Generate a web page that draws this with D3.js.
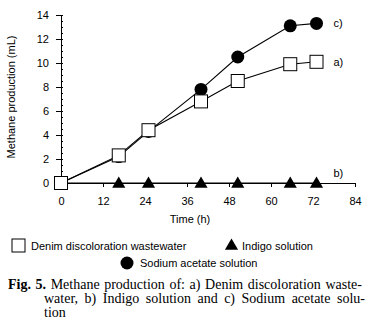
<!DOCTYPE html>
<html>
<head>
<meta charset="utf-8">
<script src="https://cdn.jsdelivr.net/npm/d3@7"></script>
<style>
    body { margin: 0; background: #fff; }
    svg { display: block; font-family: "Liberation Sans", Arial, sans-serif; }
</style>
</head>
<body>
<div id="canvas"></div>
<script>
// Data
let time = [0, 16.5, 25, 40, 50.5, 65.5, 73]
let denim = [0, 2.3, 4.4, 6.8, 8.5, 9.9, 10.1]
let indigo = [0, 0, 0, 0, 0, 0, 0]
let acetate = [0, 2.2, 4.3, 7.8, 10.5, 13.1, 13.3]
let xTicks = [0, 12, 24, 36, 48, 60, 72, 84]
let yTicks = [0, 2, 4, 6, 8, 10, 12, 14]

let width = 379
let height = 325
let sans = '"Liberation Sans", Arial, sans-serif'
let serif = '"Liberation Serif", "Times New Roman", serif'

let svg = d3.select('#canvas').append('svg')
    .attr('width', width)
    .attr('height', height)

let x = d3.scaleLinear().domain([0, 84]).range([61, 355])
let y = d3.scaleLinear().domain([0, 14]).range([183, 15])

// Axes
let xAxis = d3.axisBottom(x)
    .tickValues(xTicks)
    .tickSize(4)
    .tickPadding(10)
    .tickSizeOuter(0)

let gx = svg.append('g')
    .attr('transform', 'translate(0,' + y(0) + ')')
    .call(xAxis)
gx.selectAll('text').attr('font-size', 11).attr('font-family', sans)

// minor y ticks pointing inward
svg.append('g')
    .attr('transform', 'translate(' + x(0) + ',0)')
    .call(d3.axisRight(y).tickValues(d3.range(0, 14.01, 0.5)).tickSize(2).tickFormat(''))
    .select('.domain').remove()

let gy = svg.append('g')
    .attr('transform', 'translate(' + x(0) + ',0)')
    .call(d3.axisLeft(y).tickValues(yTicks).tickSize(5).tickPadding(7).tickSizeOuter(0))
gy.selectAll('text').attr('font-size', 11).attr('font-family', sans)

svg.selectAll('.domain, .tick line').attr('stroke', '#000')

svg.append('text')
    .attr('transform', 'translate(15,97) rotate(-90)')
    .attr('text-anchor', 'middle')
    .attr('font-size', 11)
    .text('Methane production (mL)')

svg.append('text')
    .attr('x', 190)
    .attr('y', 223)
    .attr('text-anchor', 'middle')
    .attr('font-size', 11)
    .text('Time (h)')

// Lines
let line = function (vals) {
    return d3.line()
        .x((d, i) => x(time[i]))
        .y((d) => y(d))(vals)
}

;[indigo, acetate, denim].forEach(function (vals) {
    svg.append('path')
        .attr('d', line(vals))
        .attr('fill', 'none')
        .attr('stroke', '#000')
        .attr('stroke-width', 1.1)
})

// Markers
let tri = d3.symbol().type(d3.symbolTriangle).size(75)

svg.append('g')
    .selectAll('circle')
    .data(acetate)
    .enter()
    .append('circle')
    .attr('cx', (d, i) => x(time[i]))
    .attr('cy', (d) => y(d))
    .attr('r', 6.5)
    .attr('fill', '#000')

svg.append('g')
    .selectAll('path')
    .data(indigo)
    .enter()
    .append('path')
    .attr('d', tri)
    .attr('transform', (d, i) => 'translate(' + x(time[i]) + ',' + (y(d) + 1) + ')')
    .attr('fill', '#000')

svg.append('g')
    .selectAll('rect')
    .data(denim)
    .enter()
    .append('rect')
    .attr('x', (d, i) => x(time[i]) - 6.5)
    .attr('y', (d) => y(d) - 6.5)
    .attr('width', 13)
    .attr('height', 13)
    .attr('fill', '#fff')
    .attr('stroke', '#000')

// Series tags
let tags = [['c)', acetate], ['a)', denim], ['b)', indigo]]
tags.forEach(function (t) {
    let last = t[1][t[1].length - 1]
    svg.append('text')
        .attr('x', x(time[time.length - 1]) + 17)
        .attr('y', y(last) + (t[0] === 'b)' ? -6 : 4))
        .attr('font-size', 11)
        .text(t[0])
})

// Legend
let legend = svg.append('g').attr('font-size', 11)

legend.append('rect')
    .attr('x', 12).attr('y', 239)
    .attr('width', 13).attr('height', 13)
    .attr('fill', '#fff').attr('stroke', '#000')
legend.append('text').attr('x', 31).attr('y', 249.5).text('Denim discoloration wastewater')

legend.append('path')
    .attr('d', tri)
    .attr('transform', 'translate(231.5,246)')
    .attr('fill', '#000')
legend.append('text').attr('x', 242).attr('y', 249.5).text('Indigo solution')

legend.append('circle')
    .attr('cx', 127).attr('cy', 263).attr('r', 6.5)
    .attr('fill', '#000')
legend.append('text').attr('x', 140).attr('y', 267).text('Sodium acetate solution')

// Caption, justified by stretching the word gaps
let justify = function (sel, target) {
    let n = sel.text().split(' ').length - 1
    let w = sel.node().getComputedTextLength()
    sel.style('word-spacing', ((target - w) / n) + 'px')
}

let cap1 = svg.append('text')
    .attr('x', 8).attr('y', 289)
    .style('font-family', serif).attr('font-size', 14)
cap1.append('tspan').attr('font-weight', 'bold').text('Fig. 5.')
cap1.append('tspan').text(' Methane production of: a) Denim discoloration waste-')
justify(cap1, 354)

let cap2 = svg.append('text')
    .attr('x', 44).attr('y', 303)
    .style('font-family', serif).attr('font-size', 14)
    .text('water, b) Indigo solution and c) Sodium acetate solu-')
justify(cap2, 321)

svg.append('text')
    .attr('x', 44).attr('y', 317)
    .style('font-family', serif).attr('font-size', 14)
    .text('tion')
</script>
</body>
</html>
